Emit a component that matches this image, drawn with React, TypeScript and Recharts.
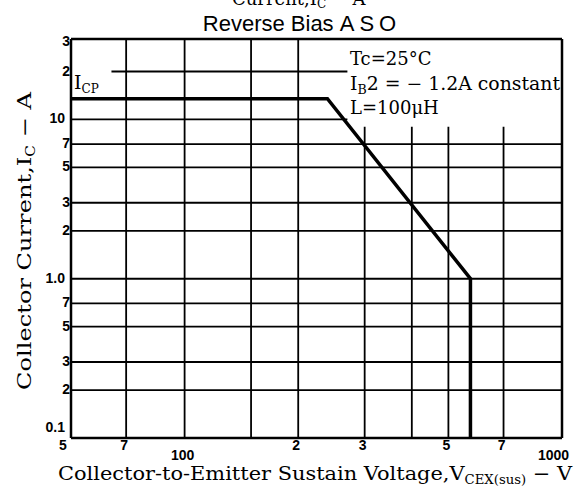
import React from "react";
import {
  LineChart,
  Line,
  XAxis,
  YAxis,
  CartesianGrid,
  ReferenceArea,
  ReferenceLine,
} from "recharts";

// Reverse Bias ASO curve (V_CEX(sus) in V, I_C in A)
const voltage = [50, 239, 572, 572];
const current = [13.5, 13.5, 1.0, 0.1];

const xTicks = [50, 70, 100, 150, 200, 300, 400, 500, 700, 1000];
const xTickLabels = ["5", "7", "100", "", "2", "3", "", "5", "7", "1000"];
const yTicks = [0.1, 0.2, 0.3, 0.5, 0.7, 1, 2, 3, 5, 7, 10, 20, 30];
const yTickLabels = ["0.1", "2", "3", "5", "7", "1.0", "2", "3", "5", "7", "10", "2", "3"];
const yGrid = [0.2, 0.3, 0.5, 0.7, 1, 2, 3, 5, 7, 10, 20];

const data = voltage.map((v, i) => ({ v, i: current[i] }));

const tickFont = "'Liberation Sans', Arial, sans-serif";
const serif = "'DejaVu Serif', 'Liberation Serif', serif";

function XTick(props: any) {
  const { x, y, payload } = props;
  const idx = xTicks.indexOf(payload.value);
  const label = xTickLabels[idx] ?? "";
  const low = label.length > 1;
  let tx = x - 2;
  let anchor: "middle" | "start" = "middle";
  if (idx === 0) tx = x - 8;
  if (label === "1000") {
    tx = x - 24;
    anchor = "start";
  }
  return (
    <text
      x={tx}
      y={y + (low ? 22 : 12)}
      textAnchor={anchor}
      fontFamily={tickFont}
      fontWeight="bold"
      fontSize={14}
      fill="#000"
    >
      {label}
    </text>
  );
}

function YTick(props: any) {
  const { x, y, payload } = props;
  const idx = yTicks.indexOf(payload.value);
  const label = yTickLabels[idx] ?? "";
  let dy = 4;
  if (idx === 0) dy = -6;
  if (idx === yTicks.length - 1) dy = 3;
  return (
    <text
      x={label.length > 1 ? x - 6 : x - 1}
      y={y + dy}
      textAnchor="end"
      fontFamily={tickFont}
      fontWeight="bold"
      fontSize={14}
      fill="#000"
    >
      {label}
    </text>
  );
}

export default function App() {
  return (
    <div style={{ position: "absolute", left: 0, top: 0, width: 574, height: 486, background: "#fff" }}>
      <LineChart
        width={574}
        height={486}
        data={data}
        margin={{ top: 39, right: 12, left: 11, bottom: 8 }}
      >
        <CartesianGrid
          stroke="#000"
          strokeWidth={1.8}
          strokeOpacity={1}
          verticalValues={xTicks}
          horizontalValues={yGrid}
        />
        <XAxis
          dataKey="v"
          type="number"
          scale="log"
          domain={[50, 1000]}
          ticks={xTicks}
          allowDataOverflow
          height={40}
          tickSize={0}
          tickMargin={0}
          tickLine={false}
          axisLine={{ stroke: "#000", strokeWidth: 2.5 }}
          tick={<XTick />}
          interval={0}
        />
        <YAxis
          type="number"
          scale="log"
          domain={[0.1, 32]}
          ticks={yTicks}
          allowDataOverflow
          width={60}
          tickSize={0}
          tickMargin={0}
          tickLine={false}
          axisLine={{ stroke: "#000", strokeWidth: 2.5 }}
          tick={<YTick />}
          interval={0}
        />
        {/* white patches behind the condition text and the I_CP label */}
        <ReferenceArea x1={270} x2={1000} y1={9} y2={32} fill="#fff" fillOpacity={1} stroke="none" />
        <ReferenceArea x1={50} x2={64} y1={16} y2={26} fill="#fff" fillOpacity={1} stroke="none" />
        <ReferenceLine y={32} stroke="#000" strokeWidth={2.5} />
        <ReferenceLine x={1000} stroke="#000" strokeWidth={2.5} />
        <Line
          dataKey="i"
          type="linear"
          stroke="#000"
          strokeWidth={3.5}
          dot={false}
          isAnimationActive={false}
        />
      </LineChart>

      <svg
        width={574}
        height={486}
        style={{ position: "absolute", left: 0, top: 0, pointerEvents: "none" }}
      >
        <text x={232} y={5} fontFamily={serif} fontSize={18} fill="#000">
          Current,I<tspan fontSize={12} dy={3}>C</tspan>
          <tspan dy={-3}> − A</tspan>
        </text>
        <text x={302} y={31} textAnchor="middle" fontFamily="'Liberation Sans', Arial, sans-serif" fontSize={22} fill="#000">
          Reverse Bias <tspan letterSpacing={5}>ASO</tspan>
        </text>

        <text x={74} y={89} fontFamily={serif} fontSize={19} fill="#000">
          I<tspan fontSize={12} dy={4}>CP</tspan>
        </text>

        <text x={350} y={65} fontFamily={serif} fontSize={18} fill="#000">
          Tc=25°C
        </text>
        <text x={350} y={90} fontFamily={serif} fontSize={18} fill="#000" textLength={210} lengthAdjust="spacingAndGlyphs">
          I<tspan fontSize={12} dy={4}>B</tspan>
          <tspan dy={-4}>2 = − 1.2A constant</tspan>
        </text>
        <text x={350} y={114} fontFamily={serif} fontSize={18} fill="#000">
          L=100μH
        </text>

        <text
          x={31}
          y={241}
          transform="rotate(-90 31 241)"
          textAnchor="middle"
          fontFamily={serif}
          fontSize={19}
          fill="#000"
          textLength={298}
          lengthAdjust="spacingAndGlyphs"
        >
          Collector Current,I<tspan fontSize={12} dy={4}>C</tspan>
          <tspan dy={-4}> − A</tspan>
        </text>

        <text
          x={58}
          y={480}
          fontFamily={serif}
          fontSize={19}
          fill="#000"
          textLength={514}
          lengthAdjust="spacingAndGlyphs"
        >
          Collector-to-Emitter Sustain Voltage,V<tspan fontSize={12} dy={4}>CEX(sus)</tspan>
          <tspan dy={-4}> − V</tspan>
        </text>
      </svg>
    </div>
  );
}
